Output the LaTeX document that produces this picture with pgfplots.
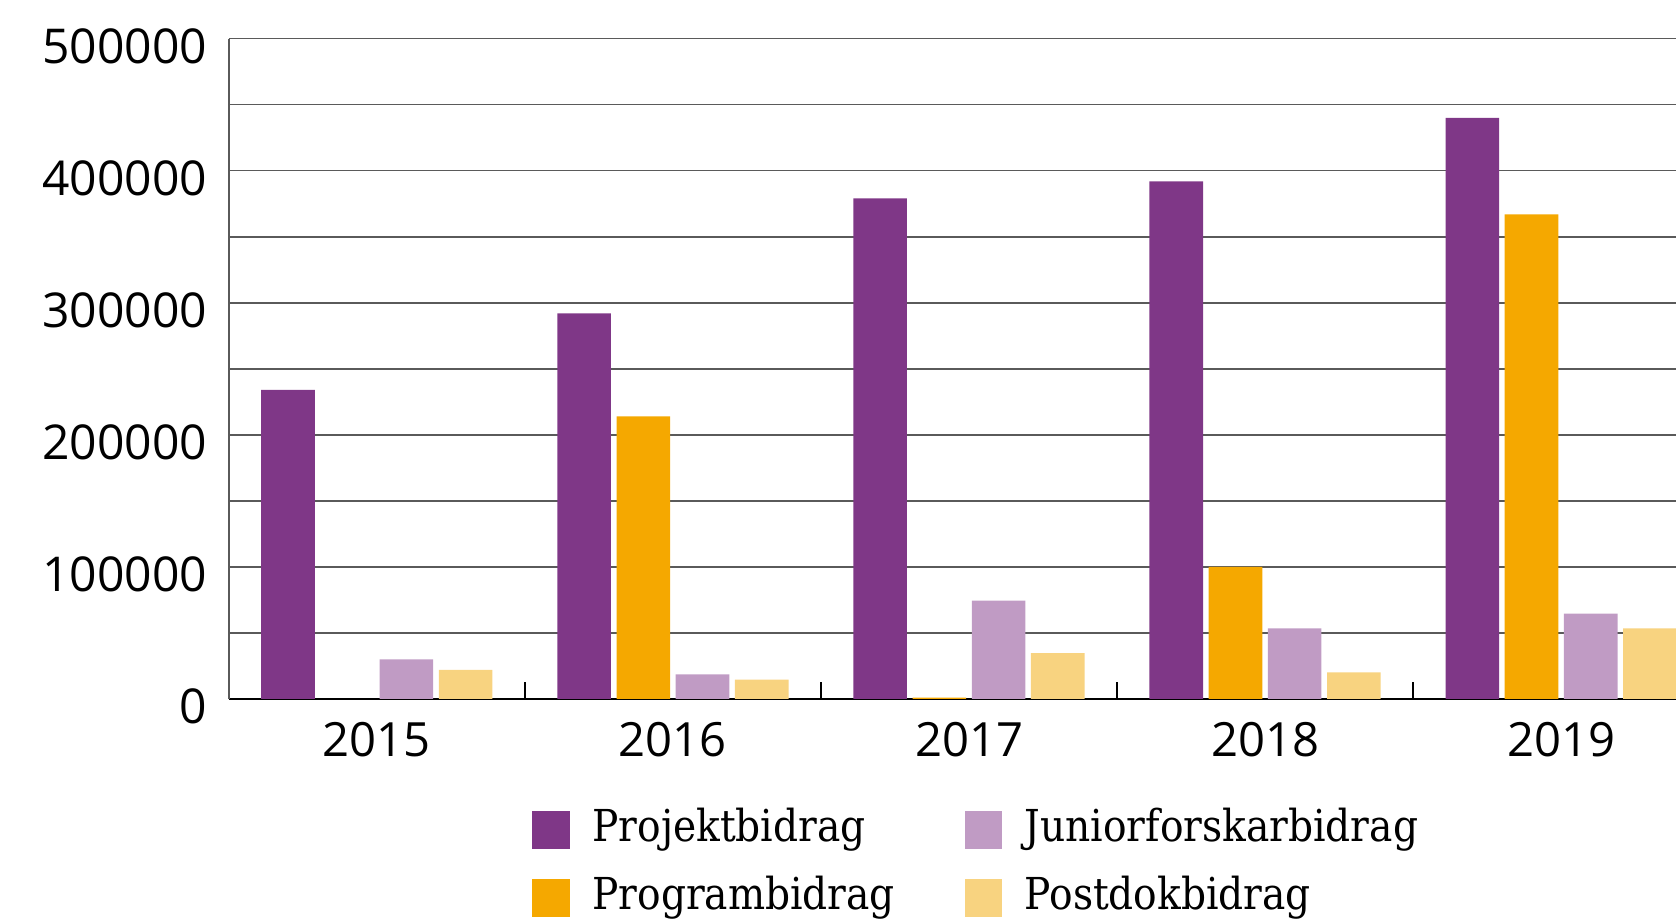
\documentclass[border=0pt]{standalone}
\usepackage{fontspec}
\setmainfont{Open Sans}
\newfontfamily\legfont{DejaVu Serif}[FakeStretch=0.89]
\usepackage{pgfplots}
\pgfplotsset{compat=1.18}

\definecolor{projekt}{RGB}{127,55,135}
\definecolor{program}{RGB}{245,168,0}
\definecolor{junior}{RGB}{192,155,196}
\definecolor{postdok}{RGB}{248,211,128}
\definecolor{gridgray}{RGB}{90,90,90}

\begin{document}
\begin{tikzpicture}
\path[use as bounding box] (0,0) rectangle (419pt,229.75pt);
\clip (0,0) rectangle (419pt,229.75pt);
\begin{axis}[
    at={(57.2pt,55pt)}, anchor=south west,
    scale only axis,
    width=361.8pt, height=165.1pt,
    ybar=1.4pt, bar width=13.4pt,
    xmin=-0.5, xmax=4.388,
    ymin=0, ymax=500000,
    axis x line*=bottom, axis y line*=left,
    x axis line style={black, line width=0.6pt, -},
    y axis line style={gridgray, line width=0.4pt, -},
    xtick={0,1,2,3,4},
    xticklabels={2015,2016,2017,2018,2019},
    major x tick style={draw=none},
    minor xtick={-0.5,0.5,1.5,2.5,3.5},
    minor x tick style={black, line width=0.6pt},
    minor tick length=4.3pt,
    tick align=inside,
    ytick={0,100000,...,500000},
    minor ytick={50000,150000,...,450000},
    ytick style={draw=none},
    minor y tick style={draw=none},
    ymajorgrids, yminorgrids,
    grid style={gridgray, line width=0.4pt},
    minor grid style={gridgray, line width=0.4pt},
    scaled y ticks=false,
    /pgf/number format/assume math mode=true,
    yticklabel style={/pgf/number format/fixed, /pgf/number format/precision=0,
        /pgf/number format/1000 sep={}, font=\fontsize{12}{12}\selectfont, xshift=-1.9pt, yshift=-1.9pt},
    xticklabel style={font=\fontsize{11.8}{12}\selectfont, yshift=-2.3pt},
    legend columns=2,
    transpose legend,
    legend image code/.code={\fill[#1] (0pt,-4.7pt) rectangle (9.4pt,4.7pt);},
    legend style={draw=none, fill=none, inner sep=0pt,
        at={(0.2092,0)}, anchor=north west, yshift=-27.3pt,
        font=\legfont\fontsize{11}{11}\selectfont,
        nodes={inner sep=0pt, text height=8pt, text depth=2.5pt},
        row sep=6.5pt,
        /tikz/every odd column/.append style={column sep=5.6pt},
        /tikz/every even column/.append style={column sep=17.4pt}},
    legend cell align=left,
]
% Projektbidrag
\addplot[fill=projekt, draw=none] coordinates {(0,234000) (1,292000) (2,379000) (3,392000) (4,440000)};
% Programbidrag (no bar in 2015)
\addplot[fill=program, draw=none] coordinates {(1,214000) (2,1000) (3,100000) (4,367000)};
% Juniorforskarbidrag
\addplot[fill=junior, draw=none] coordinates {(0,30000) (1,18600) (2,74400) (3,53400) (4,64700)};
% Postdokbidrag
\addplot[fill=postdok, draw=none] coordinates {(0,22000) (1,14600) (2,34800) (3,20200) (4,53400)};
\legend{Projektbidrag, Programbidrag, Juniorforskarbidrag, Postdokbidrag}
\end{axis}
\end{tikzpicture}
\end{document}
